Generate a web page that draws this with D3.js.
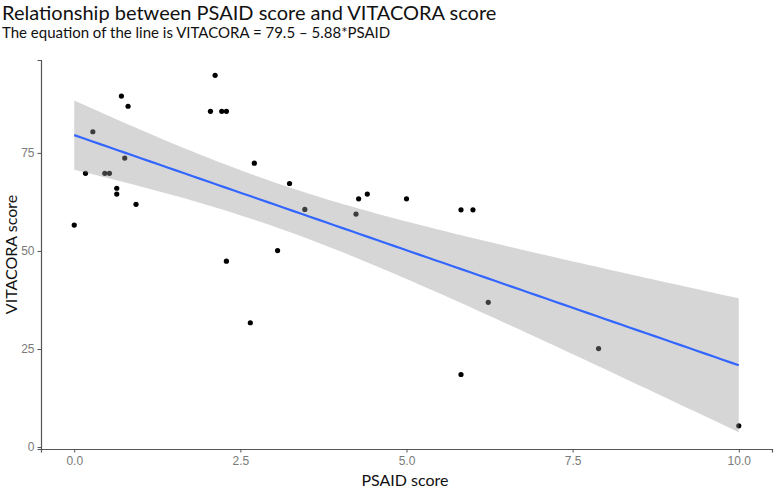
<!DOCTYPE html>
<html>
<head>
<meta charset="utf-8">
<script src="https://cdn.jsdelivr.net/npm/d3@7"></script>
<style>
  body { margin: 0; background: #fff; }
  svg { display: block; }
</style>
</head>
<body>
<div id="chart"></div>
<script>
// data
const psaid = [0.00, 0.17, 0.28, 0.46, 0.53, 0.64, 0.64, 0.71, 0.76, 0.81, 0.93,
               2.05, 2.12, 2.22, 2.29, 2.29, 2.65, 2.71, 3.06, 3.24, 3.47,
               4.24, 4.28, 4.41, 5.00, 5.82, 5.82, 6.00, 6.23, 7.89, 10.00];
const vitacora = [56.6, 69.8, 80.4, 69.8, 69.8, 66.0, 64.5, 89.5, 73.7, 86.9, 61.9,
                  85.6, 94.8, 85.6, 85.6, 47.4, 31.7, 72.4, 50.1, 67.2, 60.6,
                  59.4, 63.3, 64.5, 63.3, 60.5, 18.5, 60.5, 36.9, 25.1, 5.4];
const xTicks = [0, 2.5, 5, 7.5, 10];
const yTicks = [0, 25, 50, 75];

const width = 774;
const height = 490;
const margin = { top: 60, right: 2, bottom: 41, left: 41 };

const svg = d3.select("#chart")
    .append("svg")
    .attr("width", width)
    .attr("height", height);

const x = d3.scaleLinear()
    .domain([-0.5, 10.5])
    .range([margin.left, width - margin.right]);

const y = d3.scaleLinear()
    .domain([-0.5, 98.7])
    .range([height - margin.bottom, margin.top]);

// linear fit + 95% confidence band (like geom_smooth(method = "lm"))
const n = psaid.length;
const xbar = d3.mean(psaid);
const ybar = d3.mean(vitacora);
const sxx = d3.sum(psaid, d => (d - xbar) ** 2);
const sxy = d3.sum(psaid, (d, i) => (d - xbar) * (vitacora[i] - ybar));
const slope = sxy / sxx;
const intercept = ybar - slope * xbar;
const rss = d3.sum(psaid, (d, i) => (vitacora[i] - (intercept + slope * d)) ** 2);
const sigma = Math.sqrt(rss / (n - 2));
const tq = 2.045; // t(0.975, 29)

const grid = d3.range(0, 80).map(i => d3.min(psaid) + i * (d3.max(psaid) - d3.min(psaid)) / 79);
const fit = grid.map(g => {
    const yhat = intercept + slope * g;
    const se = sigma * Math.sqrt(1 / n + (g - xbar) ** 2 / sxx);
    return { x: g, y: yhat, lo: yhat - tq * se, hi: yhat + tq * se };
});

// points first, ribbon over them (so the covered ones look grey)
svg.append("g")
    .selectAll("circle")
    .data(psaid)
    .join("circle")
    .attr("cx", d => x(d))
    .attr("cy", (d, i) => y(vitacora[i]))
    .attr("r", 2.6)
    .attr("fill", "#000");

svg.append("path")
    .datum(fit)
    .attr("fill", "#999999")
    .attr("fill-opacity", 0.4)
    .attr("d", d3.area()
        .x(d => x(d.x))
        .y0(d => y(d.lo))
        .y1(d => y(d.hi)));

svg.append("path")
    .datum(fit)
    .attr("fill", "none")
    .attr("stroke", "#3366FF")
    .attr("stroke-width", 2.2)
    .attr("d", d3.line()
        .x(d => x(d.x))
        .y(d => y(d.y)));

// axes
const xAxis = svg.append("g")
    .attr("transform", `translate(0,${height - margin.bottom})`)
    .call(d3.axisBottom(x).tickValues(xTicks).tickFormat(d3.format(".1f")).tickSizeOuter(0).tickSize(3.5).tickPadding(4));

const yAxis = svg.append("g")
    .attr("transform", `translate(${margin.left},0)`)
    .call(d3.axisLeft(y).tickValues(yTicks).tickSizeOuter(0).tickSize(3.5).tickPadding(3));

[xAxis, yAxis].forEach(a => {
    a.select(".domain").attr("stroke", "#555").attr("stroke-width", 1.2);
    a.selectAll(".tick line").attr("stroke", "#555");
    a.selectAll(".tick text")
        .attr("fill", "#7a7a7a")
        .style("font-family", "'Liberation Sans', Arial, sans-serif")
        .style("font-size", "12px");
});

// titles
svg.append("text")
    .attr("x", 2)
    .attr("y", 20)
    .text("Relationship between PSAID score and VITACORA score")
    .style("font-family", "Lato, sans-serif")
    .style("font-size", "20px")
    .style("fill", "#111");

svg.append("text")
    .attr("x", 2)
    .attr("y", 38)
    .text("The equation of the line is VITACORA = 79.5 \u2013 5.88*PSAID")
    .style("font-family", "Lato, sans-serif")
    .style("font-size", "15px")
    .style("fill", "#111");

svg.append("text")
    .attr("x", 405)
    .attr("y", 486)
    .attr("text-anchor", "middle")
    .text("PSAID score")
    .style("font-family", "Lato, sans-serif")
    .style("font-size", "16px")
    .style("fill", "#111");

svg.append("text")
    .attr("transform", `translate(17,${(margin.top + height - margin.bottom) / 2}) rotate(-90)`)
    .attr("text-anchor", "middle")
    .text("VITACORA score")
    .style("font-family", "Lato, sans-serif")
    .style("font-size", "16px")
    .style("fill", "#111");
</script>
</body>
</html>
